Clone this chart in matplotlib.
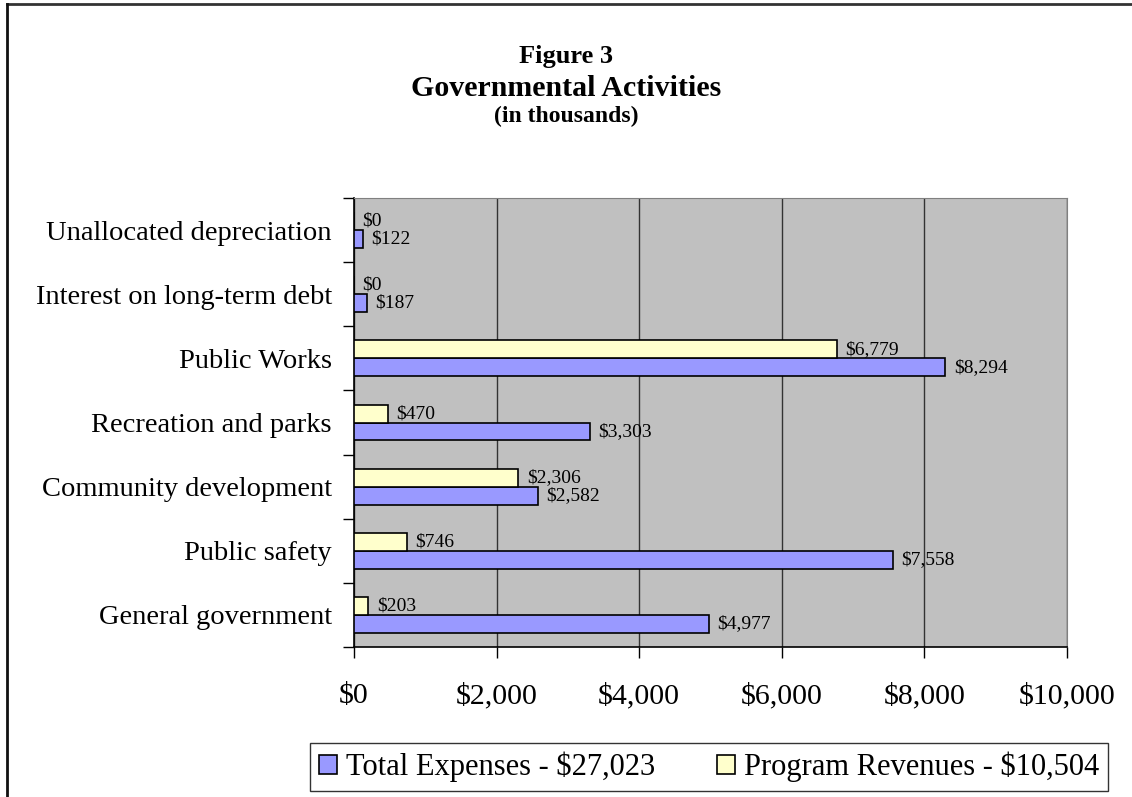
import matplotlib
matplotlib.use('Agg')
import matplotlib.pyplot as plt
from matplotlib.lines import Line2D
from matplotlib.patches import Patch
import numpy as np

categories = ['General government', 'Public safety', 'Community development',
              'Recreation and parks', 'Public Works', 'Interest on long-term debt',
              'Unallocated depreciation']
expenses = [4977, 7558, 2582, 3303, 8294, 187, 122]
revenues = [203, 746, 2306, 470, 6779, 0, 0]
xticks = [0, 2000, 4000, 6000, 8000, 10000]
legend_labels = ['Total Expenses - $27,023', 'Program Revenues - $10,504']

plt.rcParams['font.family'] = ['Liberation Serif', 'DejaVu Serif']

blue = '#9999FF'
yellow = '#FFFFCC'

fig = plt.figure(figsize=(11.32, 7.97), dpi=100)
ax = fig.add_axes([354 / 1132, 1 - 647 / 797, 713 / 1132, 449 / 797])
ax.set_facecolor('#C0C0C0')

y = np.arange(len(categories))
h = 0.28
ax.barh(y - h / 2, expenses, height=h, color=blue, edgecolor='black', lw=1.2, zorder=3)
ax.barh(y + h / 2, revenues, height=h, color=yellow, edgecolor='black', lw=1.2, zorder=3)

for i in range(len(categories)):
    ax.annotate('$%s' % format(expenses[i], ','), (expenses[i], y[i] - h / 2),
                xytext=(6, 0), textcoords='offset points', va='center', ha='left',
                fontsize=14, zorder=4)
    ax.annotate('$%s' % format(revenues[i], ','), (revenues[i], y[i] + h / 2),
                xytext=(6, 0), textcoords='offset points', va='center', ha='left',
                fontsize=14, zorder=4)

ax.set_xlim(0, 10000)
ax.set_ylim(-0.5, len(categories) - 0.5)
ax.set_xticks(xticks)
ax.set_xticklabels(['$%s' % format(v, ',') for v in xticks], fontsize=21.5)
ax.set_yticks(y)
ax.set_yticklabels(categories, fontsize=20.5)
ax.set_yticks(np.arange(-0.5, len(categories), 1), minor=True)
ax.tick_params(axis='y', which='major', length=0, pad=16)
ax.tick_params(axis='y', which='minor', length=8, width=1, direction='out')
ax.tick_params(axis='x', length=8, width=1, direction='out', pad=18)
ax.xaxis.grid(True, color='#333333', lw=1, zorder=1)
ax.set_axisbelow(True)
for s in ['top', 'right']:
    ax.spines[s].set_color('#808080')
for s in ['left', 'bottom']:
    ax.spines[s].set_color('black')
    ax.spines[s].set_linewidth(1.2)

fig.text(0.5, 1 - 57 / 797, 'Figure 3', ha='center', va='center', fontsize=19, fontweight='bold')
fig.text(0.5, 1 - 88 / 797, 'Governmental Activities', ha='center', va='center',
         fontsize=21.5, fontweight='bold')
fig.text(0.5, 1 - 116 / 797, '(in thousands)', ha='center', va='center', fontsize=17,
         fontweight='bold')

handles = [Patch(facecolor=blue, edgecolor='black', lw=1.2),
           Patch(facecolor=yellow, edgecolor='black', lw=1.2)]
leg = fig.legend(handles, legend_labels, ncol=2, loc='center',
                 bbox_to_anchor=(709 / 1132, 1 - 767 / 797), fontsize=22,
                 frameon=True, fancybox=False, edgecolor='black',
                 handlelength=0.6, handleheight=0.6, handletextpad=0.3,
                 columnspacing=2.0, borderpad=0.3, borderaxespad=0)
leg.get_frame().set_linewidth(1)

# outer border (top and left only visible)
fig.add_artist(Line2D([7 / 1132, 1.0], [1 - 4 / 797, 1 - 4 / 797], color='#333333', lw=2))
fig.add_artist(Line2D([7 / 1132, 7 / 1132], [0, 1 - 4 / 797], color='#111111', lw=2))

plt.savefig('out.png', dpi=100)
